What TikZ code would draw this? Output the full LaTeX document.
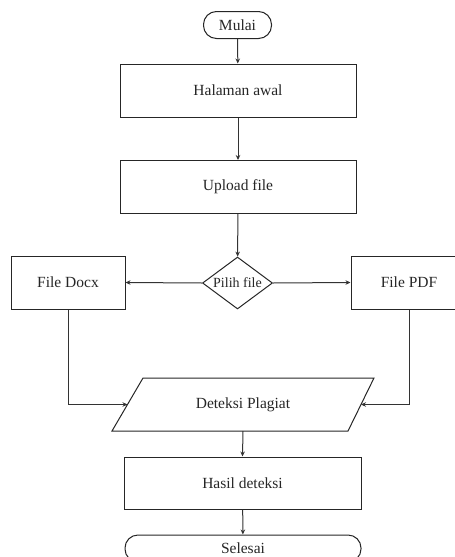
\documentclass[tikz,border=0pt]{standalone}
\usepackage{fontspec}
\setmainfont{Liberation Serif}
\usetikzlibrary{shapes.geometric,arrows.meta}
\begin{document}
\begin{tikzpicture}[x=1pt,y=-1pt,
  every node/.style={font=\fontsize{15.5}{18}\selectfont, text=black!85},
  procbox/.style={draw=black!85, line width=1pt, rectangle, minimum height=53pt, inner sep=0pt},
  termbox/.style={draw=black!85, line width=1pt, rectangle, rounded corners=13pt, minimum height=27pt, inner sep=0pt},
  decbox/.style={draw=black!85, line width=1pt, diamond, aspect=1.35, inner sep=0pt, minimum width=70pt, minimum height=52pt},
  iotext/.style={inner sep=0pt},
  flow/.style={draw=black!80, line width=1pt, -{Stealth[length=5pt,width=4.5pt]}},
  outline/.style={draw=black!85, line width=1pt}]
\useasboundingbox (0,0) rectangle (455,557);
\node[termbox, minimum width=68pt] (mulai) at (237.5,25) {Mulai};
\node[procbox, minimum width=236pt] (halaman) at (238,90.5) {Halaman awal};
\node[procbox, minimum width=236pt] (upload) at (238,187) {Upload file};
\node[decbox] (pilih) at (237.5,283) {\fontsize{14}{16}\selectfont Pilih file};
\node[procbox, minimum width=114pt] (docx) at (68,282.5) {File Docx};
\node[procbox, minimum width=116pt] (pdf) at (409,282.5) {File PDF};
% parallelogram Deteksi Plagiat
\coordinate (pBL) at (112,431);
\coordinate (pTL) at (143,378);
\coordinate (pTR) at (374,378);
\coordinate (pBR) at (348,431);
\coordinate (plagW) at (127.5,404.5);
\coordinate (plagE) at (361,404.5);
\coordinate (plagS) at (243,431);
\draw[outline] (pBL) -- (pTL) -- (pTR) -- (pBR) -- cycle;
\node[iotext] (plag) at (243,404.5) {Deteksi Plagiat};
\node[procbox, minimum width=237pt, minimum height=52pt] (hasil) at (242.5,483) {Hasil deteksi};
\node[termbox, minimum width=236pt] (selesai) at (243,548.5) {Selesai};
\draw[flow] (mulai) -- (halaman);
\draw[flow] (halaman) -- (upload);
\draw[flow] (upload) -- (pilih);
\draw[flow] (pilih.west) -- (docx.east);
\draw[flow] (pilih.east) -- (pdf.west);
\draw[flow] (docx.south) |- (plagW);
\draw[flow] (pdf.south) |- (plagE);
\draw[flow] (plagS) -- (hasil.north);
\draw[flow] (hasil) -- (selesai);
\end{tikzpicture}
\end{document}
